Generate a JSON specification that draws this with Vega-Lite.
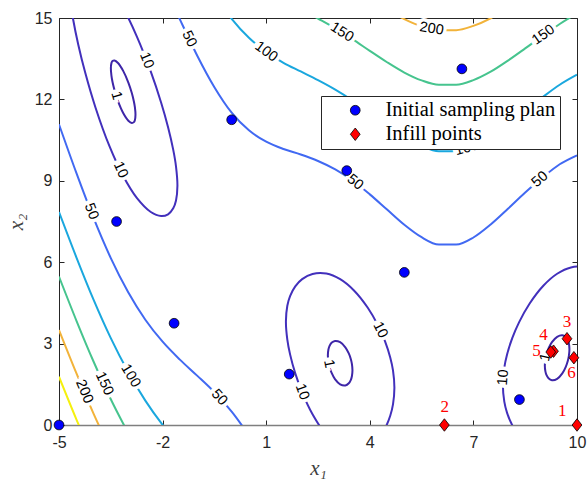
{
  "$schema": "https://vega.github.io/schema/vega-lite/v6.json",
  "width": 518,
  "height": 407,
  "autosize": "none",
  "padding": {"left": 59, "top": 18, "right": 11, "bottom": 55},
  "background": "white",
  "config": {
    "view": {"stroke": null},
    "axis": {"grid": false, "labelFlush": false, "labelOverlap": false}
  },
  "datasets": {
    "branches": [
      {"b":"u50","lv":50,"x":-2.5,"y":17.69},{"b":"u50","lv":50,"x":-2,"y":16.33},{"b":"u50","lv":50,"x":-1.5,"y":14.95},{"b":"u50","lv":50,"x":-1,"y":13.62},{"b":"u50","lv":50,"x":-0.5,"y":12.45},{"b":"u50","lv":50,"x":0,"y":11.51},{"b":"u50","lv":50,"x":0.5,"y":10.86},{"b":"u50","lv":50,"x":1,"y":10.44},{"b":"u50","lv":50,"x":1.5,"y":10.17},{"b":"u50","lv":50,"x":2,"y":9.97},{"b":"u50","lv":50,"x":2.5,"y":9.73},{"b":"u50","lv":50,"x":3,"y":9.42},{"b":"u50","lv":50,"x":3.5,"y":9.01},{"b":"u50","lv":50,"x":4,"y":8.5},{"b":"u50","lv":50,"x":4.5,"y":7.94},{"b":"u50","lv":50,"x":5,"y":7.38},{"b":"u50","lv":50,"x":5.5,"y":6.92},{"b":"u50","lv":50,"x":6,"y":6.65},{"b":"u50","lv":50,"x":6.5,"y":6.65},{"b":"u50","lv":50,"x":7,"y":6.91},{"b":"u50","lv":50,"x":7.5,"y":7.39},{"b":"u50","lv":50,"x":8,"y":7.97},{"b":"u50","lv":50,"x":8.5,"y":8.57},{"b":"u50","lv":50,"x":9,"y":9.12},{"b":"u50","lv":50,"x":9.5,"y":9.61},{"b":"u50","lv":50,"x":10,"y":9.94},
      {"b":"l50","lv":50,"x":-5,"y":11.08},{"b":"l50","lv":50,"x":-4.5,"y":9.3},{"b":"l50","lv":50,"x":-4,"y":7.63},{"b":"l50","lv":50,"x":-3.5,"y":6.15},{"b":"l50","lv":50,"x":-3,"y":4.9},{"b":"l50","lv":50,"x":-2.5,"y":3.88},{"b":"l50","lv":50,"x":-2,"y":3.07},{"b":"l50","lv":50,"x":-1.5,"y":2.41},{"b":"l50","lv":50,"x":-1,"y":1.82},{"b":"l50","lv":50,"x":-0.5,"y":1.21},{"b":"l50","lv":50,"x":0,"y":0.49},{"b":"l50","lv":50,"x":0.5,"y":-0.38},
      {"b":"u100","lv":100,"x":-1,"y":16.93},{"b":"u100","lv":100,"x":-0.5,"y":15.86},{"b":"u100","lv":100,"x":0,"y":14.97},{"b":"u100","lv":100,"x":0.5,"y":14.27},{"b":"u100","lv":100,"x":1,"y":13.75},{"b":"u100","lv":100,"x":1.5,"y":13.35},{"b":"u100","lv":100,"x":2,"y":13.03},{"b":"u100","lv":100,"x":2.5,"y":12.71},{"b":"u100","lv":100,"x":3,"y":12.36},{"b":"u100","lv":100,"x":3.5,"y":11.96},{"b":"u100","lv":100,"x":4,"y":11.51},{"b":"u100","lv":100,"x":4.5,"y":11.05},{"b":"u100","lv":100,"x":5,"y":10.61},{"b":"u100","lv":100,"x":5.5,"y":10.28},{"b":"u100","lv":100,"x":6,"y":10.09},{"b":"u100","lv":100,"x":6.5,"y":10.09},{"b":"u100","lv":100,"x":7,"y":10.29},{"b":"u100","lv":100,"x":7.5,"y":10.64},{"b":"u100","lv":100,"x":8,"y":11.1},{"b":"u100","lv":100,"x":8.5,"y":11.59},{"b":"u100","lv":100,"x":9,"y":12.08},{"b":"u100","lv":100,"x":9.5,"y":12.54},{"b":"u100","lv":100,"x":10,"y":12.91},
      {"b":"l100","lv":100,"x":-5,"y":7.85},{"b":"l100","lv":100,"x":-4.5,"y":6.19},{"b":"l100","lv":100,"x":-4,"y":4.62},{"b":"l100","lv":100,"x":-3.5,"y":3.2},{"b":"l100","lv":100,"x":-3,"y":1.96},{"b":"l100","lv":100,"x":-2.5,"y":0.9},{"b":"l100","lv":100,"x":-2,"y":0.005},{"b":"l100","lv":100,"x":-1.5,"y":-0.77},
      {"b":"u150","lv":150,"x":-0.5,"y":18.3},{"b":"u150","lv":150,"x":0,"y":17.42},{"b":"u150","lv":150,"x":0.5,"y":16.71},{"b":"u150","lv":150,"x":1,"y":16.15},{"b":"u150","lv":150,"x":1.5,"y":15.71},{"b":"u150","lv":150,"x":2,"y":15.33},{"b":"u150","lv":150,"x":2.5,"y":14.98},{"b":"u150","lv":150,"x":3,"y":14.62},{"b":"u150","lv":150,"x":3.5,"y":14.22},{"b":"u150","lv":150,"x":4,"y":13.79},{"b":"u150","lv":150,"x":4.5,"y":13.37},{"b":"u150","lv":150,"x":5,"y":12.99},{"b":"u150","lv":150,"x":5.5,"y":12.7},{"b":"u150","lv":150,"x":6,"y":12.54},{"b":"u150","lv":150,"x":6.5,"y":12.54},{"b":"u150","lv":150,"x":7,"y":12.71},{"b":"u150","lv":150,"x":7.5,"y":13.02},{"b":"u150","lv":150,"x":8,"y":13.43},{"b":"u150","lv":150,"x":8.5,"y":13.88},{"b":"u150","lv":150,"x":9,"y":14.34},{"b":"u150","lv":150,"x":9.5,"y":14.78},{"b":"u150","lv":150,"x":10,"y":15.17},
      {"b":"l150","lv":150,"x":-5,"y":5.47},{"b":"l150","lv":150,"x":-4.5,"y":3.86},{"b":"l150","lv":150,"x":-4,"y":2.34},{"b":"l150","lv":150,"x":-3.5,"y":0.95},{"b":"l150","lv":150,"x":-3,"y":-0.29},
      {"b":"u200","lv":200,"x":3.5,"y":16.12},{"b":"u200","lv":200,"x":4,"y":15.71},{"b":"u200","lv":200,"x":4.5,"y":15.31},{"b":"u200","lv":200,"x":5,"y":14.96},{"b":"u200","lv":200,"x":5.5,"y":14.69},{"b":"u200","lv":200,"x":6,"y":14.55},{"b":"u200","lv":200,"x":6.5,"y":14.55},{"b":"u200","lv":200,"x":7,"y":14.71},{"b":"u200","lv":200,"x":7.5,"y":14.99},{"b":"u200","lv":200,"x":8,"y":15.37},{"b":"u200","lv":200,"x":8.5,"y":15.8},
      {"b":"l200","lv":200,"x":-5,"y":3.5},{"b":"l200","lv":200,"x":-4.5,"y":1.92},{"b":"l200","lv":200,"x":-4,"y":0.42},{"b":"l200","lv":200,"x":-3.5,"y":-0.95},
      {"b":"l250","lv":250,"x":-5,"y":1.78},{"b":"l250","lv":250,"x":-4.5,"y":0.22},{"b":"l250","lv":250,"x":-4,"y":-1.26}
    ],
    "loops": [
      {"b":"A10","lv":10,"o":0,"x":-4.7124,"y":16.369},{"b":"A10","lv":10,"o":1,"x":-4.6716,"y":16.88},{"b":"A10","lv":10,"o":2,"x":-4.5916,"y":17.107},{"b":"A10","lv":10,"o":3,"x":-4.4416,"y":17.221},{"b":"A10","lv":10,"o":4,"x":-4.2416,"y":17.162},{"b":"A10","lv":10,"o":5,"x":-3.9416,"y":16.867},{"b":"A10","lv":10,"o":6,"x":-3.5416,"y":16.231},{"b":"A10","lv":10,"o":7,"x":-3.1416,"y":15.374},{"b":"A10","lv":10,"o":8,"x":-2.7416,"y":14.308},{"b":"A10","lv":10,"o":9,"x":-2.3416,"y":13.022},{"b":"A10","lv":10,"o":10,"x":-2.0416,"y":11.875},{"b":"A10","lv":10,"o":11,"x":-1.8416,"y":10.972},{"b":"A10","lv":10,"o":12,"x":-1.6916,"y":10.138},{"b":"A10","lv":10,"o":13,"x":-1.6116,"y":9.526},{"b":"A10","lv":10,"o":14,"x":-1.5708,"y":8.819},{"b":"A10","lv":10,"o":15,"x":-1.6116,"y":8.274},{"b":"A10","lv":10,"o":16,"x":-1.6916,"y":7.986},{"b":"A10","lv":10,"o":17,"x":-1.8416,"y":7.766},{"b":"A10","lv":10,"o":18,"x":-2.0416,"y":7.701},{"b":"A10","lv":10,"o":19,"x":-2.3416,"y":7.849},{"b":"A10","lv":10,"o":20,"x":-2.7416,"y":8.36},{"b":"A10","lv":10,"o":21,"x":-3.1416,"y":9.176},{"b":"A10","lv":10,"o":22,"x":-3.5416,"y":10.283},{"b":"A10","lv":10,"o":23,"x":-3.9416,"y":11.694},{"b":"A10","lv":10,"o":24,"x":-4.2416,"y":12.988},{"b":"A10","lv":10,"o":25,"x":-4.4416,"y":14.015},{"b":"A10","lv":10,"o":26,"x":-4.5916,"y":14.955},{"b":"A10","lv":10,"o":27,"x":-4.6716,"y":15.628},{"b":"A10","lv":10,"o":28,"x":-4.7124,"y":16.369},
      {"b":"A1","lv":1,"o":0,"x":-3.3916,"y":12.333},{"b":"A1","lv":1,"o":1,"x":-3.4516,"y":12.652},{"b":"A1","lv":1,"o":2,"x":-3.4816,"y":12.878},{"b":"A1","lv":1,"o":3,"x":-3.4979,"y":13.148},{"b":"A1","lv":1,"o":4,"x":-3.4816,"y":13.336},{"b":"A1","lv":1,"o":5,"x":-3.4516,"y":13.412},{"b":"A1","lv":1,"o":6,"x":-3.3916,"y":13.435},{"b":"A1","lv":1,"o":7,"x":-3.2916,"y":13.342},{"b":"A1","lv":1,"o":8,"x":-3.1416,"y":13.051},{"b":"A1","lv":1,"o":9,"x":-2.9916,"y":12.621},{"b":"A1","lv":1,"o":10,"x":-2.8916,"y":12.233},{"b":"A1","lv":1,"o":11,"x":-2.8316,"y":11.922},{"b":"A1","lv":1,"o":12,"x":-2.8016,"y":11.702},{"b":"A1","lv":1,"o":13,"x":-2.7853,"y":11.435},{"b":"A1","lv":1,"o":14,"x":-2.8016,"y":11.244},{"b":"A1","lv":1,"o":15,"x":-2.8316,"y":11.162},{"b":"A1","lv":1,"o":16,"x":-2.8916,"y":11.131},{"b":"A1","lv":1,"o":17,"x":-2.9916,"y":11.215},{"b":"A1","lv":1,"o":18,"x":-3.1416,"y":11.499},{"b":"A1","lv":1,"o":19,"x":-3.2916,"y":11.936},{"b":"A1","lv":1,"o":20,"x":-3.3916,"y":12.333},
      {"b":"B10","lv":10,"o":0,"x":3.1416,"y":-0.824},{"b":"B10","lv":10,"o":1,"x":2.7416,"y":-0.366},{"b":"B10","lv":10,"o":2,"x":2.3416,"y":0.395},{"b":"B10","lv":10,"o":3,"x":2.0416,"y":1.202},{"b":"B10","lv":10,"o":4,"x":1.8416,"y":1.904},{"b":"B10","lv":10,"o":5,"x":1.6916,"y":2.602},{"b":"B10","lv":10,"o":6,"x":1.6116,"y":3.145},{"b":"B10","lv":10,"o":7,"x":1.5708,"y":3.819},{"b":"B10","lv":10,"o":8,"x":1.6116,"y":4.396},{"b":"B10","lv":10,"o":9,"x":1.6916,"y":4.753},{"b":"B10","lv":10,"o":10,"x":1.8416,"y":5.11},{"b":"B10","lv":10,"o":11,"x":2.0416,"y":5.376},{"b":"B10","lv":10,"o":12,"x":2.3416,"y":5.568},{"b":"B10","lv":10,"o":13,"x":2.7416,"y":5.582},{"b":"B10","lv":10,"o":14,"x":3.1416,"y":5.374},{"b":"B10","lv":10,"o":15,"x":3.5416,"y":4.958},{"b":"B10","lv":10,"o":16,"x":3.9416,"y":4.32},{"b":"B10","lv":10,"o":17,"x":4.2416,"y":3.661},{"b":"B10","lv":10,"o":18,"x":4.4416,"y":3.082},{"b":"B10","lv":10,"o":19,"x":4.5916,"y":2.491},{"b":"B10","lv":10,"o":20,"x":4.6716,"y":2.01},{"b":"B10","lv":10,"o":21,"x":4.7124,"y":1.369},{"b":"B10","lv":10,"o":22,"x":4.6716,"y":0.758},{"b":"B10","lv":10,"o":23,"x":4.5916,"y":0.34},{"b":"B10","lv":10,"o":24,"x":4.4416,"y":-0.123},{"b":"B10","lv":10,"o":25,"x":4.2416,"y":-0.514},{"b":"B10","lv":10,"o":26,"x":3.9416,"y":-0.853},{"b":"B10","lv":10,"o":27,"x":3.5416,"y":-0.99},{"b":"B10","lv":10,"o":28,"x":3.1416,"y":-0.824},
      {"b":"B1","lv":1,"o":0,"x":2.8016,"y":2.326},{"b":"B1","lv":1,"o":1,"x":2.7853,"y":2.569},{"b":"B1","lv":1,"o":2,"x":2.8016,"y":2.784},{"b":"B1","lv":1,"o":3,"x":2.8316,"y":2.909},{"b":"B1","lv":1,"o":4,"x":2.8916,"y":3.029},{"b":"B1","lv":1,"o":5,"x":2.9916,"y":3.098},{"b":"B1","lv":1,"o":6,"x":3.1416,"y":3.051},{"b":"B1","lv":1,"o":7,"x":3.2916,"y":2.864},{"b":"B1","lv":1,"o":8,"x":3.3916,"y":2.639},{"b":"B1","lv":1,"o":9,"x":3.4516,"y":2.426},{"b":"B1","lv":1,"o":10,"x":3.4816,"y":2.254},{"b":"B1","lv":1,"o":11,"x":3.4979,"y":2.014},{"b":"B1","lv":1,"o":12,"x":3.4816,"y":1.796},{"b":"B1","lv":1,"o":13,"x":3.4516,"y":1.666},{"b":"B1","lv":1,"o":14,"x":3.3916,"y":1.537},{"b":"B1","lv":1,"o":15,"x":3.2916,"y":1.458},{"b":"B1","lv":1,"o":16,"x":3.1416,"y":1.499},{"b":"B1","lv":1,"o":17,"x":2.9916,"y":1.692},{"b":"B1","lv":1,"o":18,"x":2.8916,"y":1.927},{"b":"B1","lv":1,"o":19,"x":2.8316,"y":2.149},{"b":"B1","lv":1,"o":20,"x":2.8016,"y":2.326},
      {"b":"C10","lv":10,"o":0,"x":9.4248,"y":-0.624},{"b":"C10","lv":10,"o":1,"x":9.0248,"y":-0.816},{"b":"C10","lv":10,"o":2,"x":8.6248,"y":-0.704},{"b":"C10","lv":10,"o":3,"x":8.3248,"y":-0.384},{"b":"C10","lv":10,"o":4,"x":8.1248,"y":-0.006},{"b":"C10","lv":10,"o":5,"x":7.9748,"y":0.448},{"b":"C10","lv":10,"o":6,"x":7.8948,"y":0.861},{"b":"C10","lv":10,"o":7,"x":7.854,"y":1.469},{"b":"C10","lv":10,"o":8,"x":7.8948,"y":2.113},{"b":"C10","lv":10,"o":9,"x":7.9748,"y":2.599},{"b":"C10","lv":10,"o":10,"x":8.1248,"y":3.2},{"b":"C10","lv":10,"o":11,"x":8.3248,"y":3.791},{"b":"C10","lv":10,"o":12,"x":8.6248,"y":4.469},{"b":"C10","lv":10,"o":13,"x":9.0248,"y":5.132},{"b":"C10","lv":10,"o":14,"x":9.4248,"y":5.574},{"b":"C10","lv":10,"o":15,"x":9.8248,"y":5.807},{"b":"C10","lv":10,"o":16,"x":10.2248,"y":5.819},{"b":"C10","lv":10,"o":17,"x":10.5248,"y":5.646},{"b":"C10","lv":10,"o":18,"x":10.7248,"y":5.393},{"b":"C10","lv":10,"o":19,"x":10.8748,"y":5.046},{"b":"C10","lv":10,"o":20,"x":10.9548,"y":4.694},{"b":"C10","lv":10,"o":21,"x":10.9956,"y":4.119},{"b":"C10","lv":10,"o":22,"x":10.9548,"y":3.442},{"b":"C10","lv":10,"o":23,"x":10.8748,"y":2.894},{"b":"C10","lv":10,"o":24,"x":10.7248,"y":2.187},{"b":"C10","lv":10,"o":25,"x":10.5248,"y":1.472},{"b":"C10","lv":10,"o":26,"x":10.2248,"y":0.646},{"b":"C10","lv":10,"o":27,"x":9.8248,"y":-0.141},{"b":"C10","lv":10,"o":28,"x":9.4248,"y":-0.624},
      {"b":"C1","lv":1,"o":0,"x":9.0848,"y":2.432},{"b":"C1","lv":1,"o":1,"x":9.1148,"y":2.606},{"b":"C1","lv":1,"o":2,"x":9.1748,"y":2.824},{"b":"C1","lv":1,"o":3,"x":9.2748,"y":3.055},{"b":"C1","lv":1,"o":4,"x":9.4248,"y":3.251},{"b":"C1","lv":1,"o":5,"x":9.5748,"y":3.308},{"b":"C1","lv":1,"o":6,"x":9.6748,"y":3.245},{"b":"C1","lv":1,"o":7,"x":9.7348,"y":3.129},{"b":"C1","lv":1,"o":8,"x":9.7648,"y":3.006},{"b":"C1","lv":1,"o":9,"x":9.7811,"y":2.792},{"b":"C1","lv":1,"o":10,"x":9.7648,"y":2.548},{"b":"C1","lv":1,"o":11,"x":9.7348,"y":2.369},{"b":"C1","lv":1,"o":12,"x":9.6748,"y":2.143},{"b":"C1","lv":1,"o":13,"x":9.5748,"y":1.901},{"b":"C1","lv":1,"o":14,"x":9.4248,"y":1.699},{"b":"C1","lv":1,"o":15,"x":9.2748,"y":1.649},{"b":"C1","lv":1,"o":16,"x":9.1748,"y":1.722},{"b":"C1","lv":1,"o":17,"x":9.1148,"y":1.846},{"b":"C1","lv":1,"o":18,"x":9.0848,"y":1.975},{"b":"C1","lv":1,"o":19,"x":9.0685,"y":2.191},{"b":"C1","lv":1,"o":20,"x":9.0848,"y":2.432}
    ],
    "labels": [
      {"id":1,"t":"50","x":-4.07,"y":7.87},
      {"id":2,"t":"10","x":-3.22,"y":9.4},
      {"id":3,"t":"1","x":-3.34,"y":12.13},
      {"id":4,"t":"10","x":-2.47,"y":13.43},
      {"id":5,"t":"50","x":-1.23,"y":14.23},
      {"id":6,"t":"100","x":1.0,"y":13.75},
      {"id":7,"t":"150","x":3.19,"y":14.47},
      {"id":8,"t":"200","x":5.79,"y":14.6},
      {"id":9,"t":"150","x":9.03,"y":14.37},
      {"id":10,"t":"100","x":6.81,"y":10.2},
      {"id":11,"t":"50","x":8.93,"y":9.05},
      {"id":12,"t":"50","x":3.57,"y":8.94},
      {"id":13,"t":"10","x":4.3,"y":3.5},
      {"id":14,"t":"10","x":2.04,"y":1.22},
      {"id":15,"t":"1","x":2.81,"y":2.25},
      {"id":16,"t":"10","x":7.87,"y":1.75},
      {"id":17,"t":"1","x":9.095,"y":2.5},
      {"id":18,"t":"50","x":-0.36,"y":1.01},
      {"id":19,"t":"100","x":-2.93,"y":1.81},
      {"id":20,"t":"150","x":-3.69,"y":1.52},
      {"id":21,"t":"200","x":-4.27,"y":1.23}
    ],
    "points": [
      {"s":"Initial sampling plan","x":-5,"y":0},
      {"s":"Initial sampling plan","x":-3.333,"y":7.5},
      {"s":"Initial sampling plan","x":-1.667,"y":3.75},
      {"s":"Initial sampling plan","x":0,"y":11.25},
      {"s":"Initial sampling plan","x":1.667,"y":1.875},
      {"s":"Initial sampling plan","x":3.333,"y":9.375},
      {"s":"Initial sampling plan","x":5,"y":5.625},
      {"s":"Initial sampling plan","x":6.667,"y":13.125},
      {"s":"Initial sampling plan","x":8.333,"y":0.9375},
      {"s":"Infill points","n":"1","x":10,"y":0,"lx":9.57,"ly":0.5},
      {"s":"Infill points","n":"2","x":6.16,"y":0,"lx":6.17,"ly":0.65},
      {"s":"Infill points","n":"3","x":9.71,"y":3.18,"lx":9.71,"ly":3.79},
      {"s":"Infill points","n":"4","x":9.32,"y":2.72,"lx":9.03,"ly":3.3},
      {"s":"Infill points","n":"5","x":9.24,"y":2.69,"lx":8.83,"ly":2.72},
      {"s":"Infill points","n":"6","x":9.91,"y":2.48,"lx":9.84,"ly":1.91}
    ]
  },
  "layer": [
    {
      "data": {"name": "branches"},
      "mark": {"type": "line", "interpolate": "monotone", "clip": true, "strokeWidth": 2},
      "encoding": {
        "x": {"field": "x", "type": "quantitative", "scale": {"domain": [-5, 10], "nice": false, "zero": false},
          "axis": {"orient": "bottom", "values": [-5, -2, 1, 4, 7, 10], "labelExpr": "'' + datum.value", "title": "x₁",
            "titleFont": "Liberation Serif", "titleFontStyle": "italic", "titleFontWeight": "normal", "titleFontSize": 21, "titleColor": "#404040", "titlePadding": 7,
            "labelFont": "Liberation Sans", "labelFontSize": 16, "labelColor": "#262626", "labelPadding": 14,
            "tickSize": -5, "tickColor": "#262626", "domainColor": "#7f7f7f", "domainWidth": 1.5}},
        "y": {"field": "y", "type": "quantitative", "scale": {"domain": [0, 15], "nice": false, "zero": false},
          "axis": {"orient": "left", "values": [0, 3, 6, 9, 12, 15], "labelExpr": "'' + datum.value", "title": "x₂",
            "titleFont": "Liberation Serif", "titleFontStyle": "italic", "titleFontWeight": "normal", "titleFontSize": 21, "titleColor": "#404040", "titlePadding": 8,
            "labelFont": "Liberation Sans", "labelFontSize": 16, "labelColor": "#262626", "labelPadding": 12,
            "tickSize": -5, "tickColor": "#262626", "domainColor": "#262626"}},
        "color": {"field": "lv", "type": "nominal", "scale": {"domain": [1, 10, 50, 100, 150, 200, 250], "range": ["#3E26A8", "#4230BC", "#4169F2", "#1AA7DE", "#46C48E", "#F2B33A", "#F5F00E"]}, "legend": null},
        "detail": {"field": "b"}
      }
    },
    {
      "data": {"name": "loops"},
      "mark": {"type": "line", "interpolate": "catmull-rom", "clip": true, "strokeWidth": 2},
      "encoding": {
        "x": {"field": "x", "type": "quantitative", "scale": {"domain": [-5, 10], "nice": false, "zero": false}, "axis": null},
        "y": {"field": "y", "type": "quantitative", "scale": {"domain": [0, 15], "nice": false, "zero": false}, "axis": null},
        "color": {"field": "lv", "type": "nominal", "scale": {"domain": [1, 10, 50, 100, 150, 200, 250], "range": ["#3E26A8", "#4230BC", "#4169F2", "#1AA7DE", "#46C48E", "#F2B33A", "#F5F00E"]}, "legend": null},
        "detail": {"field": "b"},
        "order": {"field": "o", "type": "quantitative"}
      }
    },
    {
      "data": {"name": "labels"},
      "mark": {"type": "text", "font": "Liberation Sans", "fontSize": 14.5, "fill": "white", "stroke": "white", "strokeWidth": 7, "align": "center", "baseline": "middle"},
      "encoding": {
        "x": {"field": "x", "type": "quantitative", "axis": null},
        "y": {"field": "y", "type": "quantitative", "axis": null},
        "text": {"field": "t"},
        "angle": {"field": "id", "type": "quantitative", "legend": null, "scale": {"zero": false, "nice": false, "domain": [1,2,3,4,5,6,7,8,9,10,11,12,13,14,15,16,17,18,19,20,21], "range": [69,65,74,68,64,36,32,9,-35,-15,-41,39,63,70,78,-86,-78,48,59,65,67]}}
      }
    },
    {
      "data": {"name": "labels"},
      "mark": {"type": "text", "font": "Liberation Sans", "fontSize": 14.5, "fill": "#000000", "align": "center", "baseline": "middle"},
      "encoding": {
        "x": {"field": "x", "type": "quantitative", "axis": null},
        "y": {"field": "y", "type": "quantitative", "axis": null},
        "text": {"field": "t"},
        "angle": {"field": "id", "type": "quantitative", "legend": null, "scale": {"zero": false, "nice": false, "domain": [1,2,3,4,5,6,7,8,9,10,11,12,13,14,15,16,17,18,19,20,21], "range": [69,65,74,68,64,36,32,9,-35,-15,-41,39,63,70,78,-86,-78,48,59,65,67]}}
      }
    },
    {
      "data": {"name": "points"},
      "mark": {"type": "point", "filled": true, "stroke": "black", "strokeWidth": 0.8, "size": 95, "opacity": 1},
      "encoding": {
        "x": {"field": "x", "type": "quantitative",
          "axis": {"orient": "top", "values": [-5, -2, 1, 4, 7, 10], "labels": false, "title": null, "tickSize": -5, "tickColor": "#262626", "domainColor": "#262626"}},
        "y": {"field": "y", "type": "quantitative",
          "axis": {"orient": "right", "values": [0, 3, 6, 9, 12, 15], "labels": false, "title": null, "tickSize": -5, "tickColor": "#262626", "domainColor": "#262626"}},
        "fill": {"field": "s", "type": "nominal", "scale": {"domain": ["Initial sampling plan", "Infill points"], "range": ["#0000FF", "#FF0000"]},
          "legend": {"orient": "none", "legendX": 262, "legendY": 78, "title": null, "fillColor": "white", "strokeColor": "#262626", "padding": 4, "rowPadding": 3,
            "symbolOffset": 20, "labelOffset": 20, "labelFont": "Liberation Serif", "labelFontSize": 20.5, "labelColor": "#000000", "labelLimit": 0,
            "labelExpr": "datum.label + '\u00a0\u00a0'",
            "symbolSize": 95, "symbolStrokeColor": "black", "symbolStrokeWidth": 0.8}},
        "shape": {"field": "s", "type": "nominal", "scale": {"domain": ["Initial sampling plan", "Infill points"], "range": ["circle", "M0,-1.28L1,0L0,1.28L-1,0Z"]}}
      }
    },
    {
      "data": {"name": "points"},
      "transform": [{"filter": "datum.n != null"}],
      "mark": {"type": "text", "font": "Liberation Serif", "fontSize": 17, "fill": "#FF0000", "align": "center", "baseline": "middle"},
      "encoding": {
        "x": {"field": "lx", "type": "quantitative", "axis": null},
        "y": {"field": "ly", "type": "quantitative", "axis": null},
        "text": {"field": "n"}
      }
    }
  ],
  "resolve": {"axis": {"x": "independent", "y": "independent"}}
}
